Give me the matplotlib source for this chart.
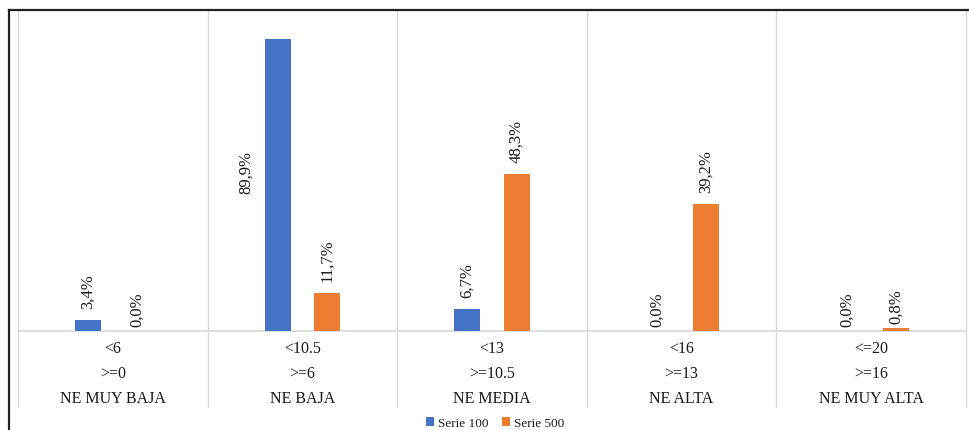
import matplotlib.pyplot as plt
import matplotlib.transforms as mtransforms
from matplotlib.lines import Line2D
import numpy as np

plt.rcParams['font.family'] = ['Liberation Serif', 'DejaVu Serif']

upper = ['<6', '<10.5', '<13', '<16', '<=20']
lower = ['>=0', '>=6', '>=10.5', '>=13', '>=16']
names = ['NE MUY BAJA', 'NE BAJA', 'NE MEDIA', 'NE ALTA', 'NE MUY ALTA']
serie100 = [3.4, 89.9, 6.7, 0.0, 0.0]
serie500 = [0.0, 11.7, 48.3, 39.2, 0.8]

blue = '#4472C4'
orange = '#ED7D31'
grid = '#d9d9d9'
txt = '#1a1a1a'

W, H = 970, 431
fig = plt.figure(figsize=(W / 100, H / 100), dpi=100)
ax = fig.add_axes([18 / W, (H - 332) / H, (966 - 18) / W, (332 - 11) / H])

x = np.arange(len(names))
off = 0.13
bw = 0.137
ax.bar(x - off, serie100, bw, color=blue, label='Serie 100', zorder=3)
ax.bar(x + off, serie500, bw, color=orange, label='Serie 500', zorder=3)

ax.set_xlim(-0.5, len(names) - 0.5)
ax.set_ylim(0, 98.8)
for s in ax.spines.values():
    s.set_visible(False)
ax.set_xticks([])
ax.set_yticks([])

# baseline and category separators (extend under the labels)
ax.axhline(0, color=grid, lw=1.2, zorder=2, clip_on=False)
trans = mtransforms.blended_transform_factory(ax.transData, ax.transAxes)
for b in np.arange(-0.5, len(names), 1.0):
    ax.plot([b, b], [-0.237, 1], color=grid, lw=1, transform=trans, clip_on=False, zorder=1)

# category labels, three rows
for i in range(len(names)):
    ax.text(i, -0.053, upper[i], transform=trans, ha='center', va='center', fontsize=11.5, color=txt)
    ax.text(i, -0.131, lower[i], transform=trans, ha='center', va='center', fontsize=11.5, color=txt)
    ax.text(i, -0.209, names[i], transform=trans, ha='center', va='center', fontsize=11.5, color=txt)


def fmt(v):
    return f"{v:.1f}%".replace('.', ',')


def put_label(xp, v):
    gap = 5 if v < 1 else 12
    ax.annotate(fmt(v), (xp, v), xytext=(0, gap * 0.72), textcoords='offset points',
                rotation=90, ha='center', va='bottom', fontsize=12, color=txt)


for i in range(len(names)):
    if i == 1:
        # this label sits beside its bar in the original
        ax.text(i - 0.30, 49, fmt(serie100[i]), rotation=90, ha='center', va='center',
                fontsize=12, color=txt)
    else:
        put_label(i - off, serie100[i])
    put_label(i + off, serie500[i])

fig.legend(loc='center', bbox_to_anchor=(495 / W, 1 - 424 / H), ncol=2, frameon=False,
           fontsize=9.5, handlelength=0.6, handleheight=0.6, handletextpad=0.3,
           columnspacing=1.0, labelcolor=txt)

# outer frame lines of the picture
fig.add_artist(Line2D([9 / W, 1], [1 - 11 / H, 1 - 11 / H], color='#222222', lw=1.6))
fig.add_artist(Line2D([9 / W, 9 / W], [0, 1 - 11 / H], color='#222222', lw=1.6))

fig.savefig('out.png', dpi=100)
